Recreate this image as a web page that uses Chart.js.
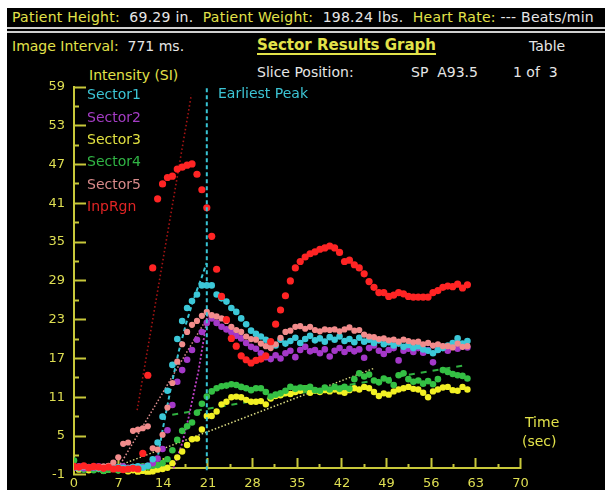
<!DOCTYPE html>
<html><head><meta charset="utf-8">
<script src="https://cdn.jsdelivr.net/npm/chart.js@4.4.1/dist/chart.umd.min.js"></script>
<style>
html,body{margin:0;padding:0;background:#fff;}
#wrap{position:relative;width:605px;height:490px;overflow:hidden;background:#fff;font-family:"DejaVu Sans",sans-serif;}
#panel{position:absolute;left:7px;top:8px;width:598px;height:482px;background:#000;}
.t{position:absolute;white-space:pre;font-size:14px;line-height:16px;}
.y{color:#e2e24a}.w{color:#e6e6e6}
.rule{position:absolute;left:7px;width:598px;height:2px;background:#cfcfcf;}
#cv{position:absolute;left:0;top:0;}
</style></head>
<body><div id="wrap">
<div id="panel"></div>
<div class="t" style="left:12px;top:9px;letter-spacing:0.25px"><span class="y">Patient Height:</span>  <span class="w">69.29 in.</span>  <span class="y">Patient Weight:</span>  <span class="w">198.24 lbs.</span>  <span class="y">Heart Rate:</span> <span class="w">--- Beats/min</span></div>
<div class="rule" style="top:27px"></div>
<div class="rule" style="top:31px"></div>
<div class="t" style="left:12px;top:38px"><span class="y">Image Interval:</span>  <span class="w">771 ms.</span></div>
<div class="t y" style="left:257px;top:37px;font-weight:bold;font-size:15px;text-decoration:underline;text-decoration-thickness:2px;text-underline-offset:3px">Sector Results Graph</div>
<div class="t w" style="left:529px;top:38px">Table</div>
<div class="t w" style="left:257px;top:64px">Slice Position:</div>
<div class="t w" style="left:411px;top:64px">SP  A93.5</div>
<div class="t w" style="left:513px;top:64px">1 of  3</div>
<div class="t y" style="left:89px;top:67px">Intensity (SI)</div>
<canvas id="cv" width="605" height="490"></canvas>
<div class="t" style="left:87px;top:86px;color:#3cc4d4">Sector1</div>
<div class="t" style="left:87px;top:109px;color:#a43cc4">Sector2</div>
<div class="t" style="left:87px;top:131px;color:#e0e040">Sector3</div>
<div class="t" style="left:87px;top:153px;color:#30b444">Sector4</div>
<div class="t" style="left:87px;top:176px;color:#d88a8a">Sector5</div>
<div class="t" style="left:87px;top:198px;color:#e02424">InpRgn</div>
<div class="t" style="left:218px;top:85px;color:#3cc4d4">Earliest Peak</div>
<div class="t y" style="left:525px;top:414px">Time</div>
<div class="t y" style="left:522px;top:433px">(sec)</div>
</div>
<script>
// sample times (s), image interval 771 ms
const times = [0,0.77,1.54,2.31,3.08,3.86,4.63,5.40,6.17,6.94,
 7.71,8.48,9.25,10.02,10.79,11.57,12.34,13.11,13.88,14.65,
 15.42,16.19,16.96,17.73,18.50,19.28,20.05,20.82,21.59,22.36,
 23.13,23.90,24.67,25.44,26.21,26.99,27.76,28.53,29.30,30.07,
 30.84,31.61,32.38,33.15,33.92,34.70,35.47,36.24,37.01,37.78,
 38.55,39.32,40.09,40.86,41.63,42.41,43.18,43.95,44.72,45.49,
 46.26,47.03,47.80,48.57,49.34,50.12,50.89,51.66,52.43,53.20,
 53.97,54.74,55.51,56.28,57.05,57.83,58.60,59.37,60.14,60.91,
 61.68];

const sector1 = [0.2,0.0,0.3,0.1,0.2,0.0,0.1,0.3,0.0,0.2,
 0.1,0.0,0.2,0.3,0.1,0.4,1.4,4.0,8.0,12.0,
 16.0,20.0,22.8,24.8,25.9,26.9,28.3,28.3,28.3,26.9,
 26.3,25.8,24.8,24.2,23.2,22.3,21.3,20.8,20.4,19.9,
 19.3,19.0,19.9,19.3,19.7,20.2,19.4,20.0,20.5,19.8,
 20.1,19.6,20.3,19.9,20.4,19.7,20.0,19.5,20.2,19.6,
 19.9,19.4,19.8,19.2,19.5,19.0,19.3,18.8,19.1,18.6,
 18.9,18.4,18.2,17.8,18.3,18.6,19.0,19.4,20.1,19.3,
 19.7];

const sector2 = [0.1,0.3,0.0,0.2,0.1,0.3,0.0,0.2,0.1,0.0,
 0.3,0.1,0.2,0.0,0.2,0.4,0.8,1.5,3.0,5.9,
 9.8,13.4,15.2,16.8,18.3,19.9,21.1,22.5,23.2,22.5,
 21.9,21.5,21.1,20.5,20.1,19.4,18.8,18.5,17.8,17.2,
 16.9,17.5,17.0,17.8,18.2,17.2,18.3,18.8,18.1,18.3,
 17.8,18.4,17.3,18.2,18.6,18.0,18.5,18.1,18.4,17.1,
 18.6,19.0,18.2,17.7,18.3,18.6,16.7,18.2,18.5,18.0,
 18.6,17.9,18.3,16.4,18.4,18.8,18.2,19.0,18.5,18.9,
 18.7];

const sector3 = [0.1,-0.2,0.0,-0.3,0.1,-0.1,-0.4,-0.2,0.0,-0.3,
 -0.1,-0.5,-0.3,-0.6,-0.4,-0.8,-0.5,-0.2,-0.1,0.1,
 0.8,1.7,2.6,3.6,4.5,4.6,6.0,8.1,8.1,8.8,
 9.9,10.3,11.0,11.1,11.0,10.6,10.3,10.3,10.4,9.9,
 10.8,11.2,11.3,11.6,11.5,11.8,12.0,12.4,11.7,12.0,
 11.8,12.1,11.9,12.2,11.9,11.7,12.1,12.4,12.2,12.6,
 12.4,11.8,11.2,11.6,11.4,11.9,12.2,12.4,12.6,12.3,
 12.2,11.7,11.0,11.9,12.2,12.5,12.6,12.1,12.0,12.6,
 12.2];

const sector4 = [1.2,0.1,-0.2,0.0,-0.3,-0.1,-0.4,-0.2,0.1,-0.3,
 0.0,-0.2,0.2,0.1,0.3,0.2,0.4,0.5,0.8,1.4,
 2.8,4.4,5.8,6.5,7.1,8.6,10.0,11.1,11.9,12.4,
 12.7,12.8,13.0,12.9,12.6,12.4,12.1,12.4,12.4,11.8,
 11.1,11.4,11.6,12.0,12.6,12.3,12.5,12.4,12.6,12.1,
 12.0,12.5,12.2,12.6,12.3,12.6,12.3,13.8,14.7,14.2,
 14.5,13.6,13.3,13.9,13.6,12.9,14.4,14.7,13.8,13.4,
 13.6,13.1,13.5,13.0,13.8,15.2,14.9,14.6,14.4,14.3,
 13.9];

const sector5 = [0.2,0.1,0.3,0.0,0.2,0.1,0.3,0.4,0.9,1.7,
 3.8,4.0,5.8,6.0,6.2,6.5,3.1,2.9,5.2,9.4,
 13.2,16.5,19.2,21.1,22.2,22.8,23.6,24.2,23.7,23.5,
 23.2,22.8,21.9,21.4,21.1,20.4,20.0,19.9,19.3,18.9,
 18.6,19.2,20.2,21.1,21.3,21.9,22.0,21.6,21.9,21.4,
 21.2,21.5,21.4,21.5,21.2,21.5,21.8,21.3,21.4,20.7,
 20.4,20.3,20.0,20.1,19.8,19.9,19.6,19.9,19.7,19.5,
 19.6,19.2,19.4,19.0,19.2,18.9,18.9,18.7,19.3,18.8,
 18.9];

const inpRgn = [0.3,0.2,0.4,0.1,0.3,0.2,0.0,0.2,-0.1,0.0,
 -0.2,-0.1,0.0,-0.1,2.3,14.4,31.0,41.7,44.0,45.0,
 45.2,46.3,46.6,46.9,47.1,45.5,43.1,40.3,35.9,30.8,
 26.6,23.0,20.1,18.9,17.4,16.8,16.3,16.7,16.9,17.4,
 19.6,22.3,24.5,26.7,29.0,31.0,32.0,32.7,33.2,33.5,
 33.9,34.1,34.4,34.1,33.4,32.0,32.2,31.5,31.0,30.1,
 28.9,28.0,27.2,27.2,26.6,26.8,27.2,27.0,26.6,26.5,
 26.5,26.5,26.5,27.2,27.5,28.0,28.2,28.1,28.5,27.9,
 28.4];

// fitted curves [time, SI]
const sector1Fit = [[12.8,0],[14.0,6.5],[15.2,12.5],[16.4,18.0],[17.6,22.5],[18.8,26.3],[20.0,29.5],[20.8,31.8]];
const sector2Fit = [[15.6,0],[17.0,4.0],[18.0,8.0],[19.5,15.0],[21.1,24.5]];
const sector3Fit = [[7.2,0.5],[47.1,15.5]];
const sector4Fit = [[15.4,8.3],[61.7,16.0]];
const sector5Fit = [[7.0,0.2],[21.0,23.5]];
const inpRgnFit = [[9.9,9.0],[18.4,57.8]];
const earliestPeak = [[20.82,-0.3],[20.82,59]];

const yMajorTicks = [-1,5,11,17,23,29,35,41,47,53,59];
const yMinorTicks = [2,8,14,20,26,32,38,44,50,56];
const xMajorTicks = [0,7,14,21,28,35,42,49,56,63,70];
const xMinorTicks = [3.5,10.5,17.5,24.5,31.5,38.5,45.5,52.5,59.5,66.5];

const pts = vals => times.map((t,i)=>({x:t,y:vals[i]}));
const pairs = arr => arr.map(p=>({x:p[0],y:p[1]}));
const AXIS = '#c8c83a', LABEL = '#dede52';

const dot = (label, vals, color, r) => ({label, data:pts(vals), backgroundColor:color, borderWidth:0, pointRadius:r, showLine:false});
const fit = (label, arr, color, w, dash) => ({label, data:pairs(arr), showLine:true, borderColor:color, borderWidth:w, borderDash:dash, pointRadius:0, fill:false, tension:0});

new Chart(document.getElementById('cv'), {
  type:'scatter',
  data:{datasets:[
    fit('Earliest Peak', earliestPeak, '#38c4d4', 2, [4,3]),
    dot('InpRgn', inpRgn, '#ff2424', 3.6),
    dot('Sector5', sector5, '#f28c8c', 3.1),
    dot('Sector1', sector1, '#3cc8d8', 3.3),
    dot('Sector2', sector2, '#a438c8', 3.3),
    dot('Sector4', sector4, '#34c044', 3.3),
    dot('Sector3', sector3, '#f2f024', 3.2),
    fit('Sector1 fit', sector1Fit, '#38c4d4', 2, [4,3]),
    fit('Sector2 fit', sector2Fit, '#c040c8', 1.8, [2,2]),
    fit('Sector5 fit', sector5Fit, '#e09090', 1.5, [1.5,2]),
    fit('Sector3 fit', sector3Fit, '#d8d880', 1.5, [1.5,2]),
    fit('Sector4 fit', sector4Fit, '#30b040', 2, [6,6]),
    fit('InpRgn fit', inpRgnFit, '#a81414', 1.6, [1.5,2.5])
  ]},
  options:{
    responsive:false, animation:false, devicePixelRatio:1,
    layout:{padding:{left:0, top:87, right:84.5, bottom:15.2}},
    plugins:{legend:{display:false}, tooltip:{enabled:false}},
    scales:{
      x:{type:'linear', min:0, max:70, position:{y:0},
        afterBuildTicks: s => { s.ticks = xMajorTicks.concat(xMinorTicks).sort((a,b)=>a-b).map(v=>({value:v})); },
        afterFit: s => { s.height = 10; s.paddingLeft = 0; s.paddingRight = 0; },
        grid:{drawOnChartArea:false, tickLength:-11, tickWidth:2, tickColor:AXIS,
          tickBorderDash: c => (c.tick && xMinorTicks.includes(c.tick.value)) ? [5,100] : [],
          tickBorderDashOffset: 0},
        border:{color:AXIS, width:2},
        ticks:{color:LABEL, font:{family:'DejaVu Sans', size:13}, padding:18, autoSkip:false, maxRotation:0, minRotation:0,
          callback: v => xMajorTicks.includes(v) ? String(v) : ''}
      },
      y:{type:'linear', min:-1, max:59, position:'left',
        afterBuildTicks: s => { s.ticks = yMajorTicks.concat(yMinorTicks).sort((a,b)=>a-b).map(v=>({value:v})); },
        afterFit: s => { s.width = 74; s.paddingTop = 0; s.paddingBottom = 0; },
        grid:{drawOnChartArea:false, tickLength:-12, tickWidth:2, tickColor:AXIS,
          tickBorderDash: c => (c.tick && yMinorTicks.includes(c.tick.value)) ? [7,100] : [],
          tickBorderDashOffset: c => (c.tick && yMinorTicks.includes(c.tick.value)) ? 100 : 0},
        border:{color:AXIS, width:2},
        ticks:{color:LABEL, font:{family:'DejaVu Sans', size:13}, padding:21, autoSkip:false,
          callback: v => yMajorTicks.includes(v) ? String(v) : ''}
      }
    }
  }
});
</script>
</body></html>
